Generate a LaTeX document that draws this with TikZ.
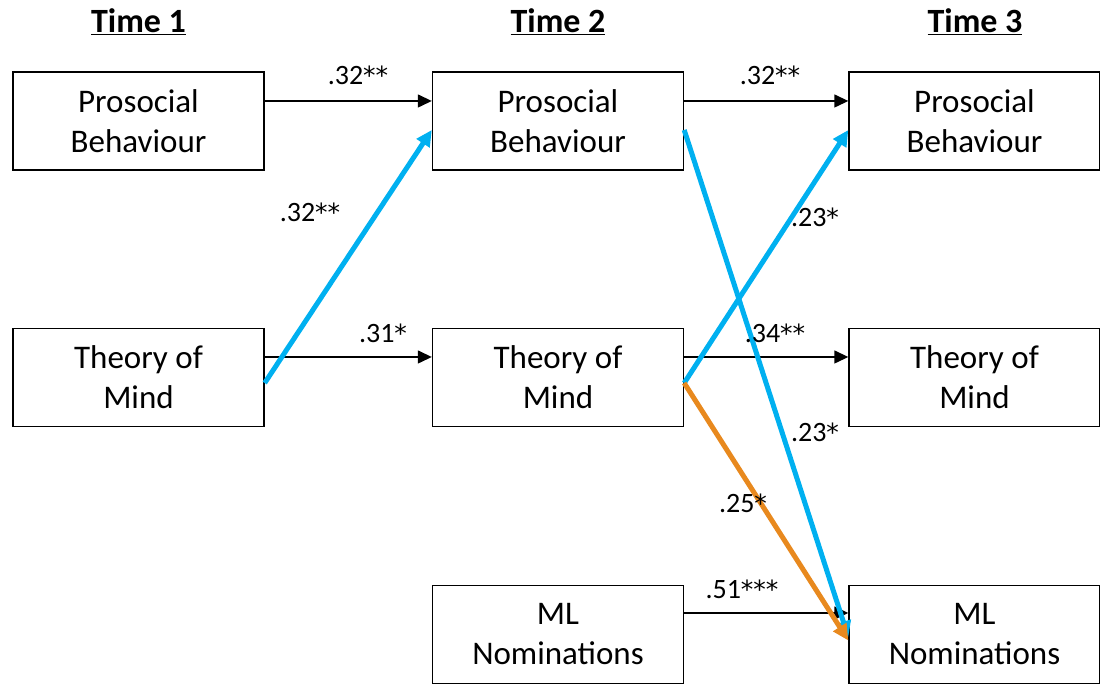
\documentclass[tikz,border=0pt]{standalone}
\usepackage{fontspec}
\setmainfont{Carlito}
\newfontfamily\starfont{DejaVu Sans}
\usetikzlibrary{arrows.meta}
\definecolor{pathBlue}{RGB}{0,176,240}
\definecolor{pathOrange}{RGB}{232,137,30}
\newcommand{\stars}[1]{{\starfont\fontsize{25}{30}\selectfont #1}}

\begin{document}
\begin{tikzpicture}[x=1pt, y=1pt,
	box/.style={draw, line width=1.4pt, minimum width=251pt, minimum height=98pt, align=center, font=\fontsize{33}{40}\selectfont},
	coef/.style={font=\fontsize{28}{30}\selectfont},
	head/.style={font=\fontsize{34}{36}\bfseries\selectfont},
	stab/.style={line width=1.4pt, -{Triangle[length=14pt,width=13pt]}},
	cross/.style={line width=5pt, -{Triangle[length=16pt,width=15pt]}}]
	\useasboundingbox (0,0) rectangle (1100,684);
	% waves
	\node[head] (w1) at (138.5,662) {\underline{Time 1}};
	\node[head] (w2) at (558,662) {\underline{Time 2}};
	\node[head] (w3) at (975,662) {\underline{Time 3}};
	% measures
	\node[box] (pb1) at (138.5,563) {Prosocial\\Behaviour};
	\node[box] (tom1) at (138.5,306.5) {Theory of\\Mind};
	\node[box] (pb2) at (558,563) {Prosocial\\Behaviour};
	\node[box] (tom2) at (558,306.5) {Theory of\\Mind};
	\node[box] (ml2) at (558,49.5) {ML\\Nominations};
	\node[box] (pb3) at (974.5,563) {Prosocial\\Behaviour};
	\node[box] (tom3) at (974.5,306.5) {Theory of\\Mind};
	\node[box] (ml3) at (974.5,49.5) {ML\\Nominations};
	% stability paths
	\draw[stab] ([yshift=20pt]pb1.east) -- ([yshift=20pt]pb2.west);
	\draw[stab] ([yshift=20pt]pb2.east) -- ([yshift=20pt]pb3.west);
	\draw[stab] ([yshift=20.5pt]tom1.east) -- ([yshift=20.5pt]tom2.west);
	\draw[stab] ([yshift=20.5pt]tom2.east) -- ([yshift=20.5pt]tom3.west);
	\draw[stab] ([yshift=21.5pt]ml2.east) -- ([yshift=21.5pt]ml3.west);
	% cross-lagged paths
	\draw[cross, pathBlue] ([yshift=-5.5pt]tom1.east) -- ([yshift=-9pt]pb2.west);
	\draw[cross, pathBlue] ([yshift=-5.5pt]tom2.east) -- ([yshift=-9pt]pb3.west);
	\draw[cross, pathBlue] ([yshift=-9pt]pb2.east) -- ([yshift=-2.5pt]ml3.west);
	\draw[cross, pathOrange] ([yshift=-5.5pt]tom2.east) -- ([yshift=-6pt]ml3.west);
	% coefficients
	\node[coef] (c1) at (358,609) {.32\stars{**}};
	\node[coef] (c2) at (770,609) {.32\stars{**}};
	\node[coef] (c3) at (310,472) {.32\stars{**}};
	\node[coef] (c4) at (383,351) {.31\stars{*}};
	\node[coef] (c5) at (775,351) {.34\stars{**}};
	\node[coef] (c6) at (815,467) {.23\stars{*}};
	\node[coef] (c7) at (815,252) {.23\stars{*}};
	\node[coef] (c8) at (743,181) {.25\stars{*}};
	\node[coef] (c9) at (742,95) {.51\stars{***}};
\end{tikzpicture}
\end{document}
